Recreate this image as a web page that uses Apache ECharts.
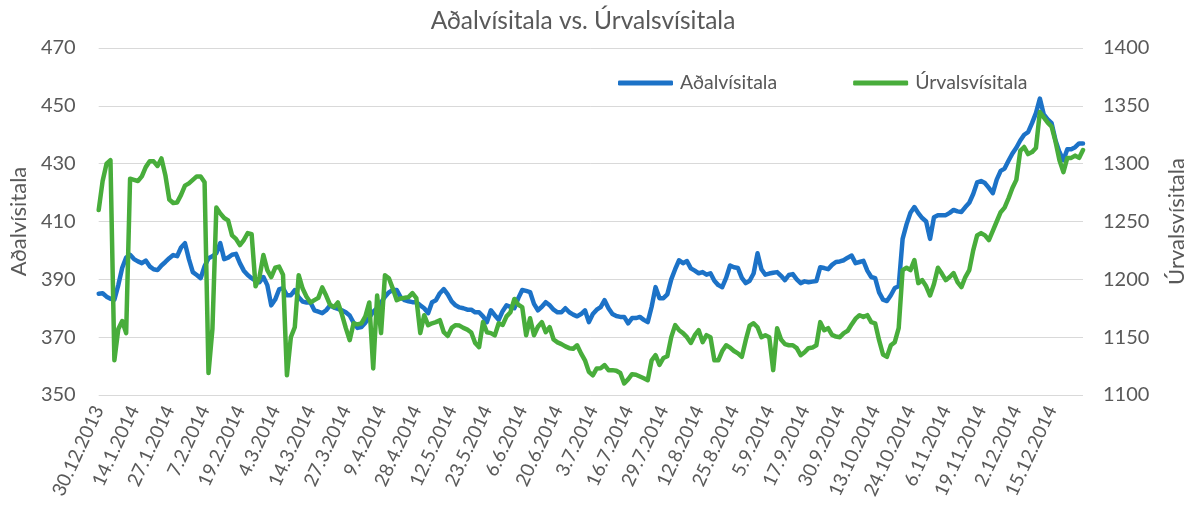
<!DOCTYPE html>
<html>
<head>
<meta charset="utf-8">
<script src="https://cdn.jsdelivr.net/npm/echarts@6/dist/echarts.min.js"></script>
<style>
html,body{margin:0;padding:0;background:#fff;}
#chart{width:1197px;height:507px;}
</style>
</head>
<body>
<div id="chart"></div>
<script>
// Trading days (category axis), every 9th label shown
const categories = [
"30.12.2013","2.1.2014","3.1.2014","6.1.2014","7.1.2014","8.1.2014","9.1.2014","10.1.2014","13.1.2014",
"14.1.2014","15.1.2014","16.1.2014","17.1.2014","20.1.2014","21.1.2014","22.1.2014","23.1.2014","24.1.2014",
"27.1.2014","28.1.2014","29.1.2014","30.1.2014","31.1.2014","3.2.2014","4.2.2014","5.2.2014","6.2.2014",
"7.2.2014","10.2.2014","11.2.2014","12.2.2014","13.2.2014","14.2.2014","15.2.2014","17.2.2014","18.2.2014",
"19.2.2014","20.2.2014","21.2.2014","24.2.2014","25.2.2014","26.2.2014","27.2.2014","28.2.2014","3.3.2014",
"4.3.2014","5.3.2014","6.3.2014","7.3.2014","8.3.2014","10.3.2014","11.3.2014","12.3.2014","13.3.2014",
"14.3.2014","17.3.2014","18.3.2014","19.3.2014","20.3.2014","21.3.2014","24.3.2014","25.3.2014","26.3.2014",
"27.3.2014","28.3.2014","31.3.2014","1.4.2014","2.4.2014","3.4.2014","4.4.2014","7.4.2014","8.4.2014",
"9.4.2014","10.4.2014","11.4.2014","14.4.2014","15.4.2014","16.4.2014","22.4.2014","23.4.2014","25.4.2014",
"28.4.2014","29.4.2014","30.4.2014","2.5.2014","5.5.2014","6.5.2014","7.5.2014","8.5.2014","9.5.2014",
"12.5.2014","13.5.2014","14.5.2014","15.5.2014","16.5.2014","19.5.2014","20.5.2014","21.5.2014","22.5.2014",
"23.5.2014","26.5.2014","27.5.2014","28.5.2014","30.5.2014","2.6.2014","3.6.2014","4.6.2014","5.6.2014",
"6.6.2014","9.6.2014","10.6.2014","11.6.2014","12.6.2014","13.6.2014","16.6.2014","18.6.2014","19.6.2014",
"20.6.2014","23.6.2014","24.6.2014","25.6.2014","26.6.2014","27.6.2014","30.6.2014","1.7.2014","2.7.2014",
"3.7.2014","4.7.2014","7.7.2014","8.7.2014","9.7.2014","10.7.2014","11.7.2014","14.7.2014","15.7.2014",
"16.7.2014","17.7.2014","18.7.2014","21.7.2014","22.7.2014","23.7.2014","24.7.2014","25.7.2014","28.7.2014",
"29.7.2014","30.7.2014","31.7.2014","1.8.2014","5.8.2014","6.8.2014","7.8.2014","8.8.2014","11.8.2014",
"12.8.2014","13.8.2014","14.8.2014","15.8.2014","18.8.2014","19.8.2014","20.8.2014","21.8.2014","22.8.2014",
"25.8.2014","26.8.2014","27.8.2014","28.8.2014","29.8.2014","1.9.2014","2.9.2014","3.9.2014","4.9.2014",
"5.9.2014","8.9.2014","9.9.2014","10.9.2014","11.9.2014","12.9.2014","13.9.2014","15.9.2014","16.9.2014",
"17.9.2014","18.9.2014","19.9.2014","22.9.2014","23.9.2014","24.9.2014","25.9.2014","26.9.2014","29.9.2014",
"30.9.2014","1.10.2014","2.10.2014","3.10.2014","6.10.2014","7.10.2014","8.10.2014","9.10.2014","10.10.2014",
"13.10.2014","14.10.2014","15.10.2014","16.10.2014","17.10.2014","20.10.2014","21.10.2014","22.10.2014","23.10.2014",
"24.10.2014","27.10.2014","28.10.2014","29.10.2014","30.10.2014","31.10.2014","3.11.2014","4.11.2014","5.11.2014",
"6.11.2014","7.11.2014","10.11.2014","11.11.2014","12.11.2014","13.11.2014","14.11.2014","17.11.2014","18.11.2014",
"19.11.2014","20.11.2014","21.11.2014","24.11.2014","25.11.2014","26.11.2014","27.11.2014","28.11.2014","1.12.2014",
"2.12.2014","3.12.2014","4.12.2014","5.12.2014","8.12.2014","9.12.2014","10.12.2014","11.12.2014","12.12.2014",
"15.12.2014","16.12.2014","17.12.2014","18.12.2014","19.12.2014","22.12.2014","23.12.2014","29.12.2014","30.12.2014"
];

// Aðalvísitala (left axis)
const adalvisitala = [
385,385.2,384,383.3,383,388,394,397.5,398.5,397,
396.2,395.6,396.5,394.5,393.5,393.2,394.8,396,397.3,398.4,
398,401,402.5,397,392.5,391.5,390.4,394.5,397.3,398,
399,402.5,397,397.5,398.5,398.8,395.6,393,391.5,390.4,
389.5,389,390.8,388,381,383,386.5,387,384.5,384.5,
386.3,383.8,382.3,382,382,379.3,378.8,378.3,379.3,381,
380.2,379.8,379.3,378.6,377.5,375,373.2,373.5,375,376.8,
378.8,380,382,384,385.5,386.3,386.3,383.8,382.8,382.4,
382.1,382.1,381,380,378.3,382.1,382.8,385.2,386.6,384.8,
382.4,381,380.3,380,379.5,379.5,378.6,378.6,377.2,375.2,
379.3,377.6,376,379,381,380.5,380,383.5,386.3,386,
385.6,381.5,379.3,380.5,382.1,381,379.5,378.6,378.6,380,
378.6,377.8,377.2,378,379.3,375.2,378,379.5,380.4,382.8,
380,378,377.3,377,377,374.8,376.6,376.6,377,376,
375.2,380.5,387.3,383.5,383.5,384.8,390,393.5,396.6,395.6,
396.3,393.8,393,392.1,392.5,391.6,392.1,389.5,388,387.3,
390.5,394.8,394.2,393.9,390.5,388.7,389.5,392,399,393.5,
391.6,392,392.3,392.5,391.2,389.7,391.5,391.8,390,388.7,
389.3,389,389.2,389.4,394.2,393.9,393.5,395,396,396.2,
396.6,397.5,398.2,395.6,396,396.4,393,390.8,390.4,385.5,
383,382.5,384.5,387,387.6,404,409,413,415,412.9,
411.2,410,404,411.5,412.2,412.2,412.2,413,414,413.5,
413.3,415,416.5,419.5,423.5,424,423.3,421.6,419.8,424.5,
427.5,428.3,431,433.5,435.5,438,440,440.9,444,447.5,
452.5,447,445.3,444,438,434,431.2,435,435,435.7,
437,437
];

// Úrvalsvísitala (right axis)
const urvalsvisitala = [
1260,1285,1300,1303,1130,1157,1164,1153.5,1287,1286,
1285,1289,1297,1302,1302,1298,1304.5,1290,1269,1266,
1266.5,1273,1281,1283,1286,1289,1289,1284,1119,1157,
1262,1257,1253,1251,1238,1235,1229.6,1234,1240,1239,
1194,1202,1221,1208,1202,1210,1211,1204,1117,1150,
1158.6,1203.6,1192,1185,1180,1182,1184,1193,1186,1178,
1176,1180,1170,1158,1147.4,1162,1161,1162,1168,1180,
1123,1186,1153.5,1203.6,1201,1192,1182,1183.5,1184,1184.6,
1188,1183.7,1153.5,1169,1160.4,1162,1163,1164.7,1154.3,1151,
1158,1160.4,1160,1158,1156.5,1154,1145,1141.4,1163,1154.3,
1153.5,1151.5,1162,1160.5,1168,1171.6,1183,1178,1176,1151.7,
1166.4,1151.7,1159,1163,1154.3,1158.6,1148,1145.5,1144,1142,
1140.5,1140,1143,1136,1130,1120,1117,1123,1123.2,1125.8,
1121.5,1121.5,1121,1119,1110,1113.5,1118,1117.5,1116,1114.5,
1112.8,1130,1134.4,1126,1132,1133.5,1150,1160.4,1156,1153.5,
1150,1145,1151.7,1156,1145.7,1151.7,1150,1130,1130,1138,
1143,1141,1138,1136,1133,1147.4,1160,1162,1158.6,1150,
1151.7,1150,1121.5,1157.8,1148,1144,1143,1143,1140.5,1134.4,
1137,1140.5,1141,1143,1163,1156,1157.8,1152,1150.5,1150,
1153.5,1155.5,1161,1166,1169,1167.5,1169,1163,1162,1147.4,
1135,1133,1143,1145.7,1157.8,1208,1210,1208,1216.6,1196.7,
1199.3,1194,1186,1196,1210,1205,1199.3,1202,1205.4,1197.6,
1193.3,1202,1208,1225,1238,1240,1238,1234,1242,1250,
1258,1262,1270,1279,1286,1311,1314.4,1308.3,1310,1313.5,
1344.6,1340,1335.5,1332,1319,1303,1292.7,1305,1305,1307,
1305,1311.8
];

const seriesNames = ["Aðalvísitala", "Úrvalsvísitala"];
const chartTitle = "Aðalvísitala vs. Úrvalsvísitala";

const FONT = "Lato, 'Open Sans', sans-serif";
const TXT = "#595959";
const BLUE = "#1C72C7";
const GREEN = "#48AD3B";

const chart = echarts.init(document.getElementById('chart'), null, {renderer: 'canvas'});
chart.setOption({
  animation: false,
  backgroundColor: '#fff',
  textStyle: {fontFamily: FONT},
  title: {
    text: chartTitle,
    left: 578, top: 4, textAlign: 'center',
    textStyle: {fontFamily: FONT, fontSize: 24.5, fontWeight: 'normal', color: TXT}
  },
  legend: {
    left: 613, top: 68,
    itemWidth: 55, itemHeight: 5, itemGap: 76,
    icon: 'roundRect',
    textStyle: {fontFamily: FONT, fontSize: 19.5, color: TXT, padding: [0,0,0,2]},
    data: seriesNames
  },
  grid: {left: 97, right: 114, top: 48, bottom: 112, containLabel: false},
  xAxis: {
    type: 'category',
    data: categories,
    boundaryGap: false,
    axisLine: {show: false},
    axisTick: {show: false},
    splitLine: {show: false},
    axisLabel: {interval: 8, rotate: 65, fontSize: 19, color: TXT, fontFamily: FONT, margin: 12}
  },
  yAxis: [
    {
      type: 'value', min: 350, max: 470, interval: 20,
      name: seriesNames[0], nameLocation: 'middle', nameGap: 64, nameRotate: 90,
      nameTextStyle: {fontFamily: FONT, fontSize: 22, color: TXT},
      axisLine: {show: false}, axisTick: {show: false},
      splitLine: {show: true, lineStyle: {color: '#D9D9D9', width: 1}},
      axisLabel: {fontSize: 20, color: TXT, fontFamily: FONT, margin: 23}
    },
    {
      type: 'value', min: 1100, max: 1400, interval: 50, position: 'right',
      name: seriesNames[1], nameLocation: 'middle', nameGap: 83, nameRotate: 90,
      nameTextStyle: {fontFamily: FONT, fontSize: 22, color: TXT},
      axisLine: {show: false}, axisTick: {show: false},
      splitLine: {show: false},
      axisLabel: {fontSize: 20, color: TXT, fontFamily: FONT, margin: 20,
                  formatter: function (v) { return String(v); }}
    }
  ],
  series: [
    {
      name: seriesNames[0], type: 'line', yAxisIndex: 0, data: adalvisitala,
      showSymbol: false, symbol: 'none', color: BLUE,
      lineStyle: {width: 4.5, color: BLUE, join: 'round', cap: 'round'}, z: 2
    },
    {
      name: seriesNames[1], type: 'line', yAxisIndex: 1, data: urvalsvisitala,
      showSymbol: false, symbol: 'none', color: GREEN,
      lineStyle: {width: 4.5, color: GREEN, join: 'round', cap: 'round'}, z: 3
    }
  ]
});
</script>
</body>
</html>
